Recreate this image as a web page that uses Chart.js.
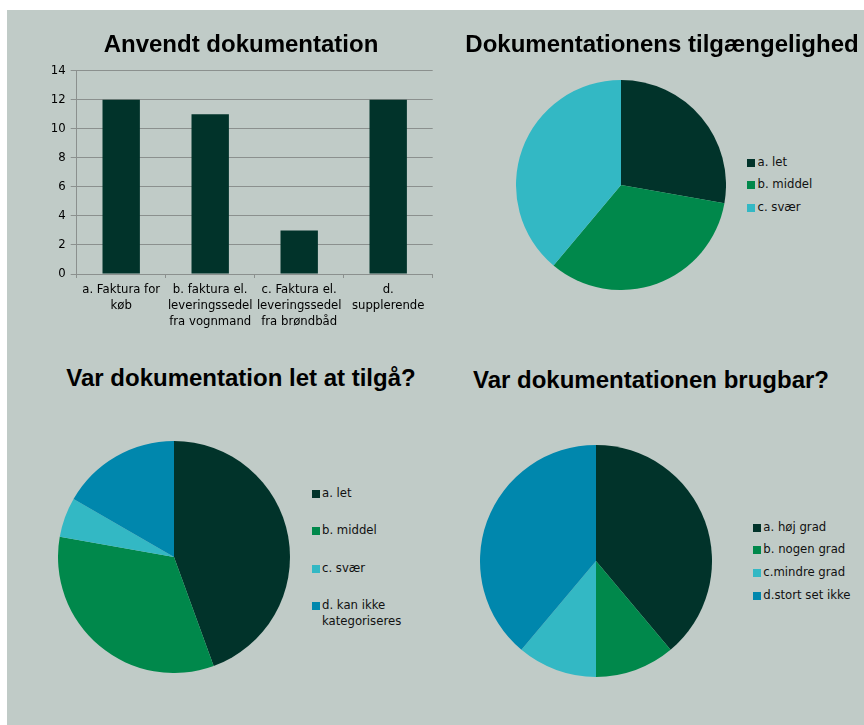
<!DOCTYPE html>
<html>
<head>
<meta charset="utf-8">
<script src="https://cdn.jsdelivr.net/npm/chart.js@4.4.0/dist/chart.umd.min.js"></script>
<style>
  html, body { margin: 0; padding: 0; background: #ffffff; }
  #page { position: relative; width: 864px; height: 725px; overflow: hidden; background: #ffffff; }
  #panel { position: absolute; left: 7px; top: 10px; width: 857px; height: 715px; background: #c0cbc7; }
  canvas { position: absolute; }
  .title { position: absolute; width: 600px; text-align: center; font: bold 24px "Liberation Sans", Arial, sans-serif; line-height: 28px; color: #000; white-space: nowrap; }
  .legend-item { position: absolute; font: 11.7px "DejaVu Sans", sans-serif; line-height: 15.7px; color: #111; }
  .legend-item .box { position: absolute; width: 8px; height: 8px; top: 4px; }
  .legend-item .txt { position: absolute; top: 0; }
</style>
</head>
<body>
<div id="page">
  <div id="panel"></div>
  <canvas id="bar" width="450" height="340" style="left:0px;top:0px;"></canvas>
  <canvas id="pie1" width="210" height="210" style="left:516px;top:80px;"></canvas>
  <canvas id="pie2" width="232" height="232" style="left:58px;top:441px;"></canvas>
  <canvas id="pie3" width="232" height="232" style="left:480px;top:445px;"></canvas>
  <div class="title" style="left:-59px;top:30px;">Anvendt dokumentation</div>
  <div class="title" style="left:362px;top:30px;">Dokumentationens tilgængelighed</div>
  <div class="title" style="left:-59px;top:364px;">Var dokumentation let at tilgå?</div>
  <div class="title" style="left:351px;top:366px;">Var dokumentationen brugbar?</div>
  <div id="legends"></div>
</div>
<script>
// ---- data ----
const barCategories = [
  ["a. Faktura for", "køb"],
  ["b. faktura el.", "leveringssedel", "fra vognmand"],
  ["c. Faktura el.", "leveringssedel", "fra brøndbåd"],
  ["d.", "supplerende"]
];
const barValues = [12, 11, 3, 12];
const yTickMin = 0;
const yTickMax = 14;
const yTickStep = 2;

const pie1Labels = ["a. let", "b. middel", "c. svær"];
const pie1Values = [5, 6, 7];

const pie2Labels = ["a. let", "b. middel", "c. svær", "d. kan ikke kategoriseres"];
const pie2Values = [8, 6, 1, 3];

const pie3Labels = ["a. høj grad", "b. nogen grad", "c.mindre grad", "d.stort set ikke"];
const pie3Values = [7, 2, 2, 7];

const sliceColors = ["#01332a", "#00884b", "#33b8c4", "#0087ad"];
const barColor = "#01332a";
const gridColor = "#8b908e";

Chart.defaults.font.family = '"DejaVu Sans", sans-serif';
Chart.defaults.color = "#000";
Chart.defaults.animation = false;

// ---- bar chart ----
new Chart(document.getElementById("bar"), {
  type: "bar",
  data: {
    labels: barCategories,
    datasets: [{ data: barValues, backgroundColor: barColor, borderWidth: 0,
                 barPercentage: 0.42, categoryPercentage: 1.0 }]
  },
  options: {
    responsive: false,
    devicePixelRatio: 1,
    layout: { padding: { top: 70.7, right: 17.3, left: 0, bottom: 0 } },
    plugins: { legend: { display: false }, title: { display: false }, tooltip: { enabled: false } },
    scales: {
      x: {
        afterFit: (s) => { s.height = 66; },
        grid: { drawOnChartArea: false, drawTicks: true, tickLength: 4, color: gridColor, offset: true },
        border: { color: gridColor, width: 1 },
        ticks: { autoSkip: false, maxRotation: 0, minRotation: 0, padding: 4,
                 font: { size: 11.7, lineHeight: 1.35 }, color: "#000" }
      },
      y: {
        min: yTickMin, max: yTickMax,
        afterFit: (s) => { s.width = 76.7; },
        grid: { color: gridColor, tickLength: 6, lineWidth: 1 },
        border: { color: gridColor, width: 1 },
        ticks: { stepSize: yTickStep, padding: 5, font: { size: 11.7 }, color: "#000" }
      }
    }
  }
});

// ---- pie charts ----
function makePie(id, labels, values) {
  return new Chart(document.getElementById(id), {
    type: "pie",
    data: {
      labels: labels,
      datasets: [{ data: values, backgroundColor: sliceColors.slice(0, values.length), borderWidth: 0 }]
    },
    options: {
      responsive: false,
      devicePixelRatio: 1,
      layout: { padding: 0 },
      plugins: { legend: { display: false }, title: { display: false }, tooltip: { enabled: false } }
    }
  });
}
const c1 = makePie("pie1", pie1Labels, pie1Values);
const c2 = makePie("pie2", pie2Labels, pie2Values);
const c3 = makePie("pie3", pie3Labels, pie3Values);

// ---- HTML legends built from chart data ----
function buildLegend(chart, left, top, rowGap, textOffset, wrapWidth) {
  const host = document.getElementById("legends");
  const ds = chart.data.datasets[0];
  chart.data.labels.forEach((lab, i) => {
    const item = document.createElement("div");
    item.className = "legend-item";
    item.style.left = left + "px";
    item.style.top = (top + i * rowGap) + "px";
    const box = document.createElement("div");
    box.className = "box";
    box.style.left = "0px";
    box.style.background = ds.backgroundColor[i];
    const txt = document.createElement("div");
    txt.className = "txt";
    txt.style.left = textOffset + "px";
    txt.style.width = wrapWidth + "px";
    txt.textContent = lab;
    item.appendChild(box);
    item.appendChild(txt);
    host.appendChild(item);
  });
}
buildLegend(c1, 747, 154.5, 22.7, 10.5, 120);
buildLegend(c2, 312, 485.5, 37.6, 10, 88);
buildLegend(c3, 752.5, 519.5, 22.7, 10.8, 120);
</script>
</body>
</html>
